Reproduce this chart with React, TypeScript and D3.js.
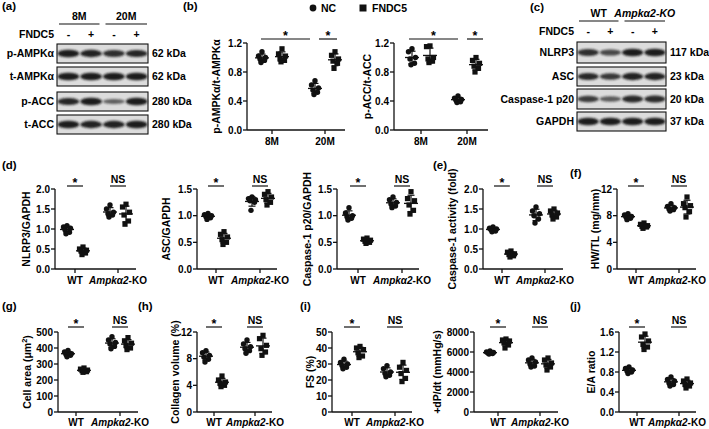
import React from "react";
import * as d3 from "d3";

const W = 709, H = 429;
const FONT = "'Liberation Sans', Arial, sans-serif";

// ---------- categories ----------
const ageCats = ["8M", "20M"];
const genoCats = ["WT", "Ampkα2-KO"];
const legendItems = ["NC", "FNDC5"];

// ---------- panel (b) ----------
const pampkNC = [[1.08, 1.02, 1.0, 0.98, 0.96, 0.93], [0.68, 0.62, 0.58, 0.55, 0.52, 0.49]];
const pampkFN = [[1.12, 1.05, 1.02, 0.98, 0.96, 0.94], [1.08, 1.03, 0.98, 0.95, 0.92, 0.85]];
const paccNC = [[1.12, 1.08, 1.0, 0.98, 0.92, 0.9], [0.47, 0.44, 0.42, 0.41, 0.39, 0.38]];
const paccFN = [[1.16, 1.15, 1.0, 0.98, 0.95, 0.93], [1.0, 0.96, 0.92, 0.88, 0.85, 0.8]];
// ---------- panel (d) ----------
const nlrpNC = [[1.08, 1.05, 1.02, 0.98, 0.92, 0.88], [1.6, 1.5, 1.42, 1.38, 1.35, 1.3]];
const nlrpFN = [[0.55, 0.5, 0.47, 0.45, 0.4, 0.36], [1.62, 1.55, 1.42, 1.35, 1.2, 1.12]];
const ascNC = [[1.04, 1.02, 1.0, 0.98, 0.96, 0.93], [1.35, 1.32, 1.3, 1.28, 1.25, 1.1]];
const ascFN = [[0.7, 0.65, 0.6, 0.55, 0.5, 0.46], [1.45, 1.4, 1.35, 1.3, 1.25, 1.2]];
const caspNC = [[1.15, 1.05, 1.0, 0.98, 0.95, 0.92], [1.35, 1.3, 1.25, 1.22, 1.18, 1.15]];
const caspFN = [[0.58, 0.56, 0.54, 0.52, 0.5, 0.48], [1.45, 1.32, 1.28, 1.2, 1.1, 1.03]];
// ---------- panel (e) ----------
const actNC = [[1.05, 1.02, 1.0, 0.98, 0.95, 0.93], [1.55, 1.45, 1.38, 1.33, 1.25, 1.15]];
const actFN = [[0.45, 0.42, 0.38, 0.36, 0.33, 0.3], [1.5, 1.45, 1.4, 1.35, 1.3, 1.25]];
// ---------- panel (f) ----------
const hwNC = [[8.3, 8.1, 7.9, 7.8, 7.6, 7.4], [9.8, 9.4, 9.2, 9.0, 8.9, 8.7]];
const hwFN = [[6.9, 6.7, 6.5, 6.4, 6.3, 6.1], [10.8, 9.8, 9.5, 9.2, 8.6, 7.8]];
// ---------- panel (g) ----------
const areaNC = [[385, 375, 365, 360, 355, 345], [470, 450, 435, 425, 410, 395]];
const areaFN = [[275, 268, 262, 258, 252, 248], [465, 445, 430, 415, 400, 390]];
// ---------- panel (h) ----------
const collNC = [[9.2, 8.9, 8.5, 8.2, 7.9, 7.5], [10.8, 10.2, 9.8, 9.5, 9.2, 8.8]];
const collFN = [[5.4, 4.8, 4.5, 4.3, 4.0, 3.8], [11.5, 11.0, 10.0, 9.5, 9.0, 8.5]];
// ---------- panel (i) ----------
const fsNC = [[33, 31, 30, 29, 28, 27], [29, 27, 25, 24, 23, 22]];
const fsFN = [[41, 40, 39, 37, 35, 34], [31, 28, 26, 24, 21, 19]];
const dpNC = [[6100, 6000, 5950, 5900, 5850, 5800], [5400, 5200, 5000, 4800, 4600, 4500]];
const dpFN = [[7300, 7200, 7100, 6900, 6700, 6400], [5400, 5200, 4900, 4700, 4500, 4200]];
// ---------- panel (j) ----------
const eaNC = [[0.9, 0.87, 0.84, 0.82, 0.8, 0.77], [0.7, 0.65, 0.62, 0.58, 0.55, 0.52]];
const eaFN = [[1.56, 1.5, 1.42, 1.35, 1.3, 1.25], [0.66, 0.62, 0.58, 0.55, 0.52, 0.48]];

// ---------- tick values ----------
const ticks12d = [0, 0.4, 0.8, 1.2];
const ticks20 = [0, 0.5, 1.0, 1.5, 2.0];
const ticks15 = [0, 0.5, 1.0, 1.5];
const ticks12 = [0, 4, 8, 12];
const ticks500 = [0, 100, 200, 300, 400, 500];
const ticks50 = [0, 10, 20, 30, 40, 50];
const ticks8000 = [0, 2000, 4000, 6000, 8000];
const ticks16 = [0, 0.4, 0.8, 1.2, 1.6];

// ---------- blots ----------
const blotAGroups = ["8M", "20M"];
const blotARows = ["p-AMPKα", "t-AMPKα", "p-ACC", "t-ACC"];
const blotAkDa = ["62 kDa", "62 kDa", "280 kDa", "280 kDa"];
const blotAIntensity = [[1, 0.95, 0.85, 0.92], [1, 1, 1, 1], [0.92, 1, 0.45, 1], [1, 0.95, 0.95, 1]];
const blotCGroups = ["WT", "Ampkα2-KO"];
const blotCRows = ["NLRP3", "ASC", "Caspase-1 p20", "GAPDH"];
const blotCkDa = ["117 kDa", "23 kDa", "20 kDa", "37 kDa"];
const blotCIntensity = [[0.85, 0.65, 1, 1], [0.9, 0.78, 0.95, 0.95], [0.75, 0.5, 0.9, 0.88], [1, 1, 1, 1]];
const fndcSigns = ["-", "+", "-", "+"];

const jitter = [0, -3.5, 3.5, -2, 2.5, -1];

const TICK_FS = 10;
const TITLE_FS = 10.5;
const CAT_FS = 10;

function CatLabel({ text, x, y, size = CAT_FS }: any) {
  const m = text.match(/^(Ampkα2)(-KO)$/);
  if (m) {
    return (
      <text x={x} y={y} textAnchor="middle" fontSize={size} fontWeight="bold">
        <tspan fontStyle="italic">{m[1]}</tspan>
        <tspan>{m[2]}</tspan>
      </text>
    );
  }
  return (
    <text x={x} y={y} textAnchor="middle" fontSize={size} fontWeight="bold">{text}</text>
  );
}

function Point({ x, y, sq }: any) {
  if (sq) return <rect x={x - 2.6} y={y - 2.6} width={5.2} height={5.2} fill="#111" />;
  return <circle cx={x} cy={y} r={2.7} fill="#111" />;
}

function Scatter(p: any) {
  const { x0, xEnd, cx, cats, off, yTop, yBot, max, ticks, fmt, nc, fn, ylabel, ylabelX, sigs, sigY, catY, catShift = [0, 0] } = p;
  const y = d3.scaleLinear().domain([0, max]).range([yBot, yTop]);
  const xc = d3.scalePoint().domain(cats).range(cx);
  const groups: any[] = [];
  cats.forEach((c: string, i: number) => {
    groups.push({ x: (xc(c) as number) - off, vals: nc[i], sq: false });
    groups.push({ x: (xc(c) as number) + off, vals: fn[i], sq: true });
  });
  const midY = (yTop + yBot) / 2;
  return (
    <g>
      <line x1={x0} x2={x0} y1={yTop} y2={yBot} stroke="#111" strokeWidth={1.3} />
      <line x1={x0} x2={xEnd} y1={yBot} y2={yBot} stroke="#111" strokeWidth={1.3} />
      {ticks.map((t: number) => (
        <g key={t}>
          <line x1={x0 - 4} x2={x0} y1={y(t)} y2={y(t)} stroke="#111" strokeWidth={1.3} />
          <text x={x0 - 5} y={y(t) + 3.5} textAnchor="end" fontSize={TICK_FS} fontWeight="bold">{fmt(t)}</text>
        </g>
      ))}
      {cats.map((c: string, i: number) => (
        <g key={c}>
          <line x1={xc(c)} x2={xc(c)} y1={yBot} y2={yBot + 4} stroke="#111" strokeWidth={1.3} />
          <CatLabel text={c} x={(xc(c) as number) + catShift[i]} y={catY} />
        </g>
      ))}
      <text transform={`translate(${ylabelX},${midY}) rotate(-90)`} textAnchor="middle" fontSize={TITLE_FS} fontWeight="bold" dy="0.35em">
        {ylabel}
      </text>
      {groups.map((g, gi) => {
        const m = d3.mean(g.vals) as number;
        const sd = d3.deviation(g.vals) as number;
        const sorted = [...g.vals].sort((a: number, b: number) => b - a);
        return (
          <g key={gi}>
            {sorted.map((v: number, i: number) => (
              <Point key={i} x={g.x + jitter[i % jitter.length]} y={y(v)} sq={g.sq} />
            ))}
            <line x1={g.x - 7} x2={g.x + 7} y1={y(m)} y2={y(m)} stroke="#111" strokeWidth={1.3} />
            <line x1={g.x} x2={g.x} y1={y(m - sd)} y2={y(m + sd)} stroke="#111" strokeWidth={1.2} />
            <line x1={g.x - 3.5} x2={g.x + 3.5} y1={y(m + sd)} y2={y(m + sd)} stroke="#111" strokeWidth={1.2} />
            <line x1={g.x - 3.5} x2={g.x + 3.5} y1={y(m - sd)} y2={y(m - sd)} stroke="#111" strokeWidth={1.2} />
          </g>
        );
      })}
      {sigs.map((s: any, i: number) => (
        <g key={i}>
          <line x1={s.x1} x2={s.x2} y1={sigY} y2={sigY} stroke="#111" strokeWidth={1.2} />
          {s.t === "*" ? (
            <text x={(s.x1 + s.x2) / 2} y={sigY + 1} textAnchor="middle" fontSize={12.5} fontWeight="bold">*</text>
          ) : (
            <text x={(s.x1 + s.x2) / 2} y={sigY - 3} textAnchor="middle" fontSize={10.5} fontWeight="bold">{s.t}</text>
          )}
        </g>
      ))}
    </g>
  );
}

function Blot(p: any) {
  const { x0, x1, rowsY, rows, kda, inten, groups, italic2, headerY, signY, lblSize } = p;
  const lanes = d3.scaleBand().domain(d3.range(4).map(String)).range([x0, x1]);
  const lx = (i: number) => (lanes(String(i)) as number) + lanes.bandwidth() / 2;
  const mid = (x0 + x1) / 2;
  return (
    <g>
      {groups.map((g: string, gi: number) => {
        const a = gi === 0 ? x0 + 2 : mid + 3;
        const b = gi === 0 ? mid - 3 : x1 - 1;
        return (
          <g key={g}>
            <line x1={a} x2={b} y1={headerY} y2={headerY} stroke="#111" strokeWidth={1.2} />
            <text x={(a + b) / 2} y={headerY - 4} textAnchor="middle" fontSize={10.5} fontWeight="bold" fontStyle={gi === 1 && italic2 ? "italic" : "normal"}>{g}</text>
          </g>
        );
      })}
      <text x={x0 - 3} y={signY} textAnchor="end" fontSize={10.5} fontWeight="bold">FNDC5</text>
      {fndcSigns.map((s, i) => (
        <text key={i} x={lx(i)} y={signY} textAnchor="middle" fontSize={10.5} fontWeight="bold">{s}</text>
      ))}
      {rows.map((r: string, ri: number) => {
        const [t, b] = rowsY[ri];
        const cy = (t + b) / 2;
        return (
          <g key={r}>
            <rect x={x0} y={t} width={x1 - x0} height={b - t} fill="#dcdcdc" stroke="#111" strokeWidth={1.1} />
            {inten[ri].map((v: number, li: number) => (
              <ellipse key={li} cx={lx(li)} cy={cy} rx={lanes.bandwidth() / 2 - 0.5} ry={1.6 + 2.2 * v} fill="#1a1a1a" opacity={0.35 + 0.65 * v} filter="url(#blur)" />
            ))}
            <text x={x0 - 3} y={cy + 3.7} textAnchor="end" fontSize={lblSize} fontWeight="bold">{r}</text>
            <text x={x1 + 4} y={cy + 3.7} textAnchor="start" fontSize={lblSize} fontWeight="bold">{kda[ri]}</text>
          </g>
        );
      })}
    </g>
  );
}

const f1 = (v: number) => v.toFixed(1);
const f0 = (v: number) => String(v);

export default function App() {
  const row2 = { yTop: 189, yBot: 269, sigY: 186, catY: 284, cats: genoCats };
  const row3 = { yTop: 332, yBot: 412, sigY: 327, catY: 426, cats: genoCats };
  const row1 = { yTop: 43, yBot: 130, sigY: 39, catY: 145, cats: ageCats };
  const sig2 = (a: number, b: number) => [
    { x1: a - 8, x2: a + 8, t: "*" },
    { x1: b - 8, x2: b + 8, t: "NS" },
  ];
  return (
    <svg width={W} height={H} style={{ display: "block", fontFamily: FONT, position: "absolute", left: 0, top: 0 }} fontFamily={FONT}>
      <defs>
        <filter id="blur" x="-30%" y="-80%" width="160%" height="260%">
          <feGaussianBlur stdDeviation="1.1" />
        </filter>
      </defs>
      <rect width={W} height={H} fill="#fff" />
      {[
        ["(a)", 2, 10], ["(b)", 183, 10], ["(c)", 530, 11], ["(d)", 2, 169], ["(e)", 433, 169], ["(f)", 570, 177],
        ["(g)", 2, 310], ["(h)", 138, 310], ["(i)", 300, 310], ["(j)", 570, 310],
      ].map(([t, x, y]: any) => (
        <text key={t} x={x} y={y} fontSize={11.5} fontWeight="bold">{t}</text>
      ))}

      <Blot x0={57} x1={148} rowsY={[[44, 63], [67, 86], [92, 111], [115, 134]]} rows={blotARows} kda={blotAkDa}
        inten={blotAIntensity} groups={blotAGroups} italic2={false} headerY={24} signY={38} lblSize={10.5} />
      <Blot x0={577} x1={666} rowsY={[[42, 63], [67, 86], [89, 109], [112, 131]]} rows={blotCRows} kda={blotCkDa}
        inten={blotCIntensity} groups={blotCGroups} italic2={true} headerY={21} signY={35} lblSize={10.5} />

      <circle cx={313} cy={8} r={3.4} fill="#111" />
      <text x={321} y={11.8} fontSize={10.5} fontWeight="bold">{legendItems[0]}</text>
      <rect x={359.5} y={4.5} width={7} height={7} fill="#111" />
      <text x={372} y={11.8} fontSize={10.5} fontWeight="bold">{legendItems[1]}</text>

      <Scatter {...row1} x0={247} xEnd={345} cx={[272, 325]} off={10} max={1.2} ticks={ticks12d} fmt={f1}
        nc={pampkNC} fn={pampkFN} ylabel="p-AMPKα/t-AMPKα" ylabelX={216}
        sigs={[{ x1: 261, x2: 310, t: "*" }, { x1: 319, x2: 337, t: "*" }]} />
      <Scatter {...row1} x0={394} xEnd={488} cx={[421, 467]} off={9} max={1.2} ticks={ticks12d} fmt={f1}
        nc={paccNC} fn={paccFN} ylabel="p-ACC/t-ACC" ylabelX={367}
        sigs={[{ x1: 409, x2: 458, t: "*" }, { x1: 467, x2: 483, t: "*" }]} />

      <Scatter {...row2} x0={55} xEnd={136} cx={[75, 118]} off={8} max={2.0} ticks={ticks20} fmt={f1}
        nc={nlrpNC} fn={nlrpFN} ylabel="NLRP3/GAPDH" ylabelX={26} sigs={sig2(75, 118)} />
      <Scatter {...row2} x0={197} xEnd={277} cx={[216, 260]} off={8} max={1.5} ticks={ticks15} fmt={f1}
        nc={ascNC} fn={ascFN} ylabel="ASC/GAPDH" ylabelX={166} sigs={sig2(216, 260)} />
      <Scatter {...row2} x0={337} xEnd={419} cx={[358, 402]} off={9} max={1.5} ticks={ticks15} fmt={f1}
        nc={caspNC} fn={caspFN} ylabel="Caspase-1 p20/GAPDH" ylabelX={307} sigs={sig2(358, 402)} />
      <Scatter {...row2} x0={483} xEnd={563} cx={[502, 545]} off={9} max={2.0} ticks={ticks20} fmt={f1}
        nc={actNC} fn={actFN} ylabel="Caspase-1 activity (fold)" ylabelX={452} sigs={sig2(502, 545)} />
      <Scatter {...row2} x0={617} xEnd={696} cx={[636, 679]} off={8} max={12} ticks={ticks12} fmt={f0}
        nc={hwNC} fn={hwFN} ylabel="HW/TL (mg/mm)" ylabelX={595} sigs={sig2(636, 679)} catShift={[0, -2]} />

      <Scatter {...row3} x0={58} xEnd={138} cx={[76, 120]} off={8} max={500} ticks={ticks500} fmt={f0}
        nc={areaNC} fn={areaFN} ylabelX={27} sigs={sig2(76, 120)}
        ylabel={<>Cell area (μm<tspan dy="-4" fontSize={7.5}>2</tspan><tspan dy="4">)</tspan></>} />
      <Scatter {...row3} x0={197} xEnd={272} cx={[214, 255]} off={8} max={12} ticks={ticks12} fmt={f0}
        nc={collNC} fn={collFN} ylabel="Collagen volume (%)" ylabelX={175} sigs={sig2(214, 255)} />
      <Scatter {...row3} x0={332} xEnd={412} cx={[352, 395]} off={8} max={50} ticks={ticks50} fmt={f0}
        nc={fsNC} fn={fsFN} ylabel="FS (%)" ylabelX={310} sigs={sig2(352, 395)} />
      <Scatter {...row3} x0={474} xEnd={558} cx={[498, 540]} off={8} max={8000} ticks={ticks8000} fmt={f0}
        nc={dpNC} fn={dpFN} ylabel="+dP/dt (mmHg/s)" ylabelX={437} sigs={sig2(498, 540)} />
      <Scatter {...row3} x0={619} xEnd={696} cx={[637, 679]} off={8} max={1.6} ticks={ticks16} fmt={f1}
        nc={eaNC} fn={eaFN} ylabel="E/A ratio" ylabelX={591} sigs={sig2(637, 679)} catShift={[0, -2]} />
    </svg>
  );
}
